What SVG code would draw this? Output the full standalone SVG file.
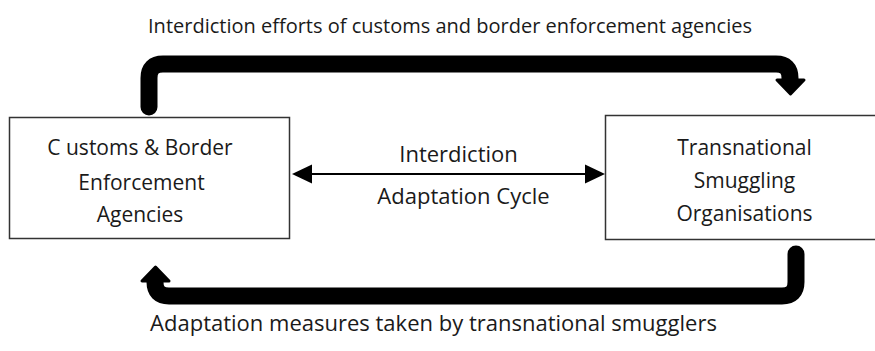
<svg xmlns="http://www.w3.org/2000/svg" width="875" height="351" viewBox="0 0 875 351">
<defs>
<style>
text{font-family:"Open Sans","Noto Sans","Liberation Sans",sans-serif;fill:#1a1a1a;}
.t{font-size:20px;}
.b{font-size:21px;}
.m{font-size:22px;}
.box{fill:#fff;stroke:#333;stroke-width:1.5;}
.big{fill:none;stroke:#000;stroke-width:17;stroke-linejoin:round;}
.thin{fill:none;stroke:#000;stroke-width:2;}
.head{fill:#000;stroke:#000;stroke-width:3;stroke-linejoin:round;}
</style>
</defs>
<g id="title"><text class="t" text-anchor="middle" x="450" y="33">Interdiction efforts of customs and border enforcement agencies</text></g>
<g id="customs">
<rect class="box" x="9.5" y="117.5" width="280" height="121"/>
<text class="b" text-anchor="middle" x="140" y="155">C ustoms &amp; Border</text>
<text class="b" text-anchor="middle" x="141.5" y="190">Enforcement</text>
<text class="b" text-anchor="middle" x="140" y="222">Agencies</text>
</g>
<g id="smugglers">
<rect class="box" x="605.5" y="115.5" width="280" height="124"/>
<text class="b" text-anchor="middle" x="744.5" y="155">Transnational</text>
<text class="b" text-anchor="middle" x="744.5" y="188">Smuggling</text>
<text class="b" text-anchor="middle" x="744.5" y="221">Organisations</text>
</g>
<g id="cycle-label">
<text class="m" text-anchor="middle" x="458.5" y="162">Interdiction</text>
<text class="m" text-anchor="middle" x="463.5" y="204">Adaptation Cycle</text>
</g>
<g id="bottom-label"><text class="m" text-anchor="middle" x="433.5" y="331">Adaptation measures taken by transnational smugglers</text></g>
<g id="connectors">
<path class="big" stroke-linecap="round" d="M149,107 V78 Q149,64 163,64 H776 Q790,64 790,78 V80"/>
<polygon class="head" points="777,80 804,80 790.5,94"/>
<path class="big" stroke-linecap="round" d="M796,254 V282 Q796,296 782,296 H169 Q155,296 155,282 V281"/>
<polygon class="head" points="142,281 169,281 155.5,267"/>
<line class="thin" x1="302" y1="174" x2="595" y2="174"/>
<polygon fill="#000" points="292,174 312,164.5 312,183.5"/>
<polygon fill="#000" points="605,174 585,164.5 585,183.5"/>
</g>
</svg>
